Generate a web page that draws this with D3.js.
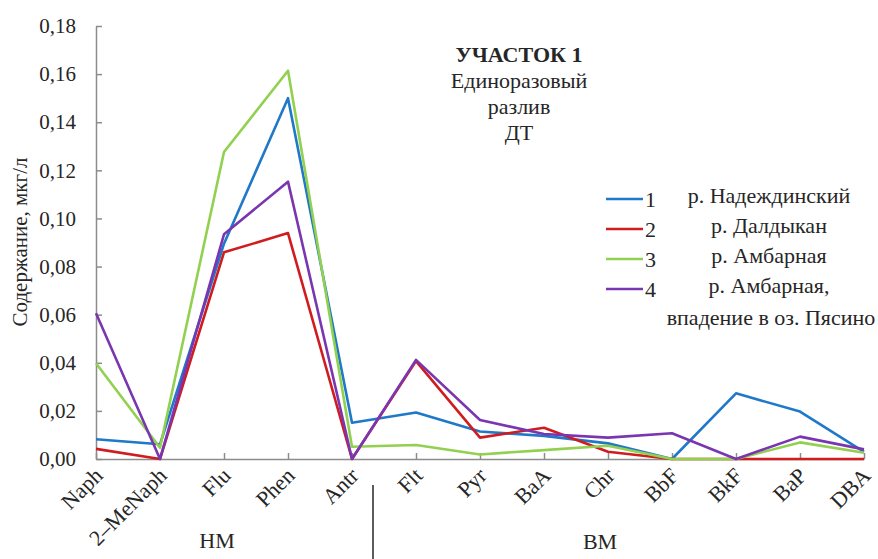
<!DOCTYPE html>
<html>
<head>
<meta charset="utf-8">
<script src="https://cdn.jsdelivr.net/npm/d3@7"></script>
<style>
  body { margin: 0; background: #fff; }
  text { font-family: "Liberation Serif", "Times New Roman", serif; fill: #262626; }
</style>
</head>
<body>
<div id="chart"></div>
<script>
// Compounds on the x axis
var categories = ["Naph", "2–MeNaph", "Flu", "Phen", "Antr", "Flt", "Pyr", "BaA", "Chr", "BbF", "BkF", "BaP", "DBA"]

// Series values, mkg/l
var site1 = [0.0082, 0.0061, 0.0895, 0.150, 0.0151, 0.0193, 0.0114, 0.0096, 0.0065, 0, 0.0273, 0.0197, 0.0030]
var site2 = [0.0042, 0, 0.0859, 0.0939, 0, 0.0407, 0.0089, 0.0130, 0.0030, 0, 0, 0, 0]
var site3 = [0.0398, 0.0047, 0.1276, 0.1614, 0.0051, 0.0058, 0.0019, 0.0037, 0.0055, 0, 0, 0.0069, 0.0026]
var site4 = [0.0606, 0, 0.0934, 0.1153, 0, 0.0412, 0.0162, 0.0104, 0.0089, 0.0107, 0, 0.0093, 0.0040]

var seriesNums = ["1", "2", "3", "4"]
var seriesNames = ["р. Надеждинский", "р. Далдыкан", "р. Амбарная", "р. Амбарная,"]
var colors = ["#1f78c8", "#d01c1f", "#92d050", "#7a36b0"]

var yTicks = [0, 0.02, 0.04, 0.06, 0.08, 0.10, 0.12, 0.14, 0.16, 0.18]

var width = 878, height = 559

var svg = d3.select("#chart")
    .append("svg")
    .attr("width", width)
    .attr("height", height)

// Scales
var x = d3.scalePoint()
    .domain(categories)
    .range([96, 864])

var y = d3.scaleLinear()
    .domain([0, 0.18])
    .range([459, 26])

var fmt = function(d) { return d3.format(".2f")(d).replace(".", ",") }

// Y axis
var yAxis = svg.append("g")
    .attr("transform", "translate(96,0)")
    .call(d3.axisLeft(y).tickValues(yTicks).tickFormat(fmt).tickSizeInner(-6).tickSizeOuter(0).tickPadding(20))
yAxis.selectAll("text").attr("font-size", "21px")
yAxis.selectAll("line, path").attr("stroke", "#8c8c8c").attr("stroke-width", 1.5)

// X axis
var xAxis = svg.append("g")
    .attr("transform", "translate(0,459)")
    .call(d3.axisBottom(x).tickSizeInner(-6).tickSizeOuter(0).tickFormat(""))
xAxis.selectAll("line, path").attr("stroke", "#8c8c8c").attr("stroke-width", 1.5)

// Rotated category labels
svg.append("g")
    .selectAll("text")
    .data(categories)
    .enter()
    .append("text")
    .attr("transform", function(d) { return "translate(" + (x(d) + 8) + ",477) rotate(-45)" })
    .attr("text-anchor", "end")
    .attr("font-size", "22px")
    .text(function(d) { return d })

// Group labels and separator
svg.append("text").attr("x", 217).attr("y", 548).attr("text-anchor", "middle").attr("font-size", "22px").text("НМ")
svg.append("text").attr("x", 600).attr("y", 549).attr("text-anchor", "middle").attr("font-size", "22px").text("ВМ")
svg.append("line")
    .attr("x1", 373).attr("x2", 373)
    .attr("y1", 485).attr("y2", 559)
    .attr("stroke", "#262626").attr("stroke-width", 1.5)

// Y axis title
svg.append("text")
    .attr("transform", "translate(27,242) rotate(-90)")
    .attr("text-anchor", "middle")
    .attr("font-size", "21px")
    .text("Содержание, мкг/л")

// Lines
var allSeries = [site1, site2, site3, site4]
var line = d3.line()
    .x(function(d, i) { return x(categories[i]) })
    .y(function(d) { return y(d) })

svg.append("g")
    .selectAll("path")
    .data(allSeries)
    .enter()
    .append("path")
    .attr("d", line)
    .attr("fill", "none")
    .attr("stroke", function(d, i) { return colors[i] })
    .attr("stroke-width", 2.6)
    .attr("stroke-linejoin", "round")

// Title block
var titleLines = ["Единоразовый", "разлив", "ДТ"]
svg.append("text")
    .attr("x", 519).attr("y", 62)
    .attr("text-anchor", "middle")
    .attr("font-size", "22px")
    .attr("font-weight", "bold")
    .text("УЧАСТОК 1")
svg.append("g")
    .selectAll("text")
    .data(titleLines)
    .enter()
    .append("text")
    .attr("x", 519)
    .attr("y", function(d, i) { return 88 + i * 26 })
    .attr("text-anchor", "middle")
    .attr("font-size", "22px")
    .text(function(d) { return d })

// Legend
var legend = svg.append("g")
seriesNums.forEach(function(n, i) {
    var ly = 199 + i * 30
    legend.append("line")
        .attr("x1", 606).attr("x2", 643)
        .attr("y1", ly).attr("y2", ly)
        .attr("stroke", colors[i]).attr("stroke-width", 2.6)
    legend.append("text")
        .attr("x", 645).attr("y", ly + 8)
        .attr("font-size", "22px")
        .text(n)
    legend.append("text")
        .attr("x", 769).attr("y", ly + 4)
        .attr("text-anchor", "middle")
        .attr("font-size", "22px")
        .text(seriesNames[i])
})
legend.append("text")
    .attr("x", 771).attr("y", 325)
    .attr("text-anchor", "middle")
    .attr("font-size", "22px")
    .text("впадение в оз. Пясино")
</script>
</body>
</html>
